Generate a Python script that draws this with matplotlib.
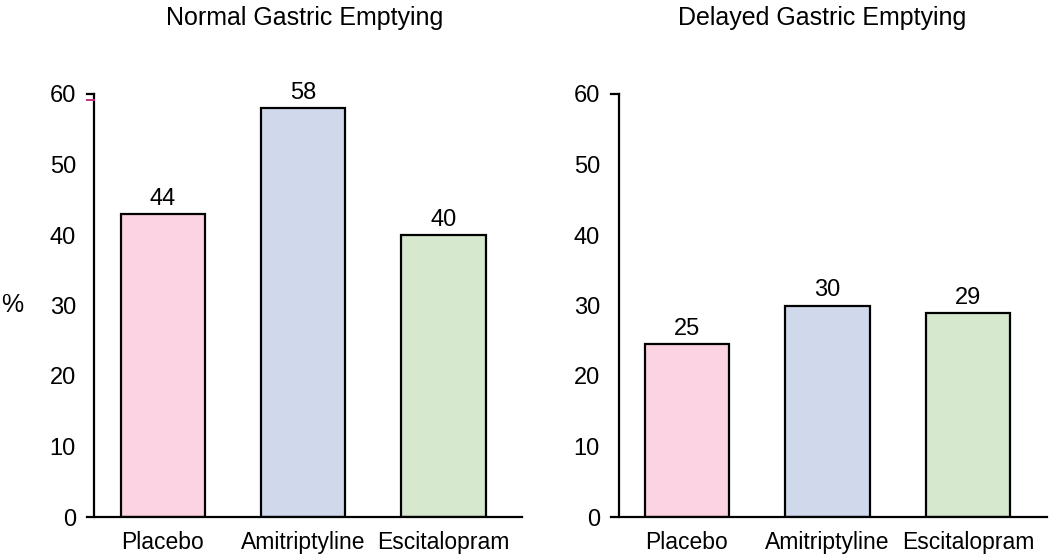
import matplotlib
matplotlib.use("Agg")
import matplotlib.pyplot as plt

categories = ["Placebo", "Amitriptyline", "Escitalopram"]
titles = ["Normal Gastric Emptying", "Delayed Gastric Emptying"]
normal_values = [43, 58, 40]
normal_labels = ["44", "58", "40"]
delayed_values = [24.5, 30, 28.9]
delayed_labels = ["25", "30", "29"]
yticks = [0, 10, 20, 30, 40, 50, 60]
colors = ["#FCD3E3", "#D0D9EC", "#D6E8CD"]

plt.rcParams['font.family'] = ['Liberation Sans', 'DejaVu Sans']

fig = plt.figure(figsize=(10.5, 5.56), dpi=100)
W, H = 1050, 556

def make_ax(x0, x1, values, labels, spine_x, pink=False):
    y_bot, y_top = 517, 94
    ax = fig.add_axes([x0 / W, 1 - y_bot / H, (x1 - x0) / W, (y_bot - y_top) / H])
    xs = list(range(len(categories)))
    ax.bar(xs, values, width=0.6, color=colors, edgecolor="black", linewidth=1.6, zorder=2)
    for x, v, lab in zip(xs, values, labels):
        ax.annotate(lab, (x, v), xytext=(0, 3), textcoords="offset points",
                    ha="center", va="bottom", fontsize=17)
    ax.set_xlim(-0.54, 2.56)
    ax.set_ylim(0, 60)
    for s in ["top", "right", "left"]:
        ax.spines[s].set_visible(False)
    ax.spines["bottom"].set_linewidth(1.6)
    ax.plot([spine_x, spine_x], [0, 60], color="black", lw=1.6, clip_on=False, zorder=3,
            solid_capstyle="projecting")
    ax.plot([-0.54, spine_x], [60, 60], color="black", lw=1.6, clip_on=False, zorder=3)
    if pink:
        ax.plot([-0.54, spine_x], [59.2, 59.2], color="#C2307A", lw=1.4, clip_on=False, zorder=3)
    ax.set_yticks(yticks)
    ax.set_yticklabels([str(t) for t in yticks], fontsize=17)
    ax.tick_params(axis="y", length=0, pad=8)
    ax.set_xticks(xs)
    ax.set_xticklabels(categories, fontsize=16.5)
    ax.tick_params(axis="x", length=0, pad=10)
    return ax

ax1 = make_ax(87, 522, normal_values, normal_labels, -0.49, pink=True)
ax2 = make_ax(611, 1047, delayed_values, delayed_labels, -0.485)

fig.text(305 / W, 1 - 18 / H, titles[0], ha="center", va="center", fontsize=18)
fig.text(822 / W, 1 - 18 / H, titles[1], ha="center", va="center", fontsize=18)
fig.text(12 / W, 1 - 305 / H, "%", ha="center", va="center", fontsize=18)

fig.savefig("out.png", dpi=100)
